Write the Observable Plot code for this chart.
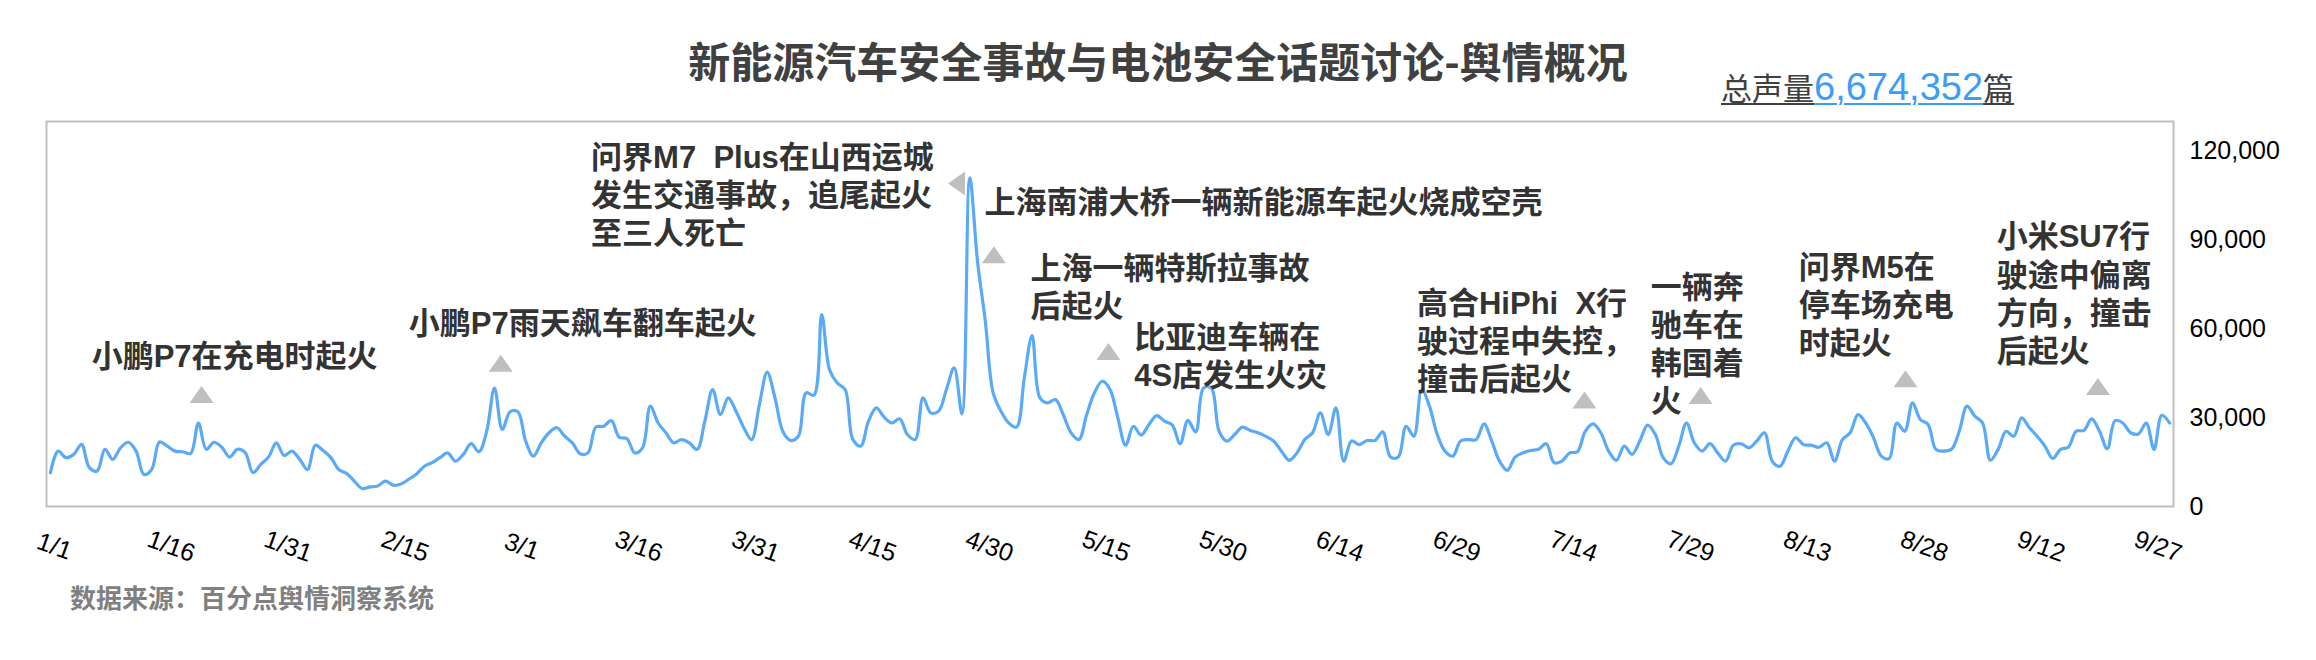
<!DOCTYPE html>
<html><head><meta charset="utf-8">
<script src="https://cdn.jsdelivr.net/npm/d3@7"></script>
<script src="https://cdn.jsdelivr.net/npm/@observablehq/plot@0.6"></script>
<style>
body{margin:0;background:#fff;}
#wrap{position:relative;width:2316px;height:660px;overflow:hidden;background:#fff;}
#title{position:absolute;left:0;width:2316px;top:36px;text-align:center;font:bold 42px/48px "Noto Sans CJK SC",sans-serif;color:#404040;white-space:nowrap;}
#total{position:absolute;left:1721px;top:66px;font:31px/42px "Noto Sans CJK SC",sans-serif;color:#404040;white-space:nowrap;}
#total span{text-decoration:underline;text-decoration-thickness:2px;text-underline-offset:3px;}
#total .num{color:#3d9cf6;font-size:38px;font-family:"Liberation Sans",sans-serif;}
#chart{position:absolute;left:0;top:108px;}
#source{position:absolute;left:70px;top:580px;font:bold 26px/34px "Noto Sans CJK SC",sans-serif;color:#808080;white-space:nowrap;}
</style></head>
<body><div id="wrap">
<div id="title"></div><div id="total"></div><div id="chart"></div><div id="source"></div>
</div>
<script>
const titleText = "新能源汽车安全事故与电池安全话题讨论-舆情概况";
const totalParts = ["总声量", "6,674,352", "篇"];
const sourceText = "数据来源：百分点舆情洞察系统";
const startDate = "2024-01-01";

const dailyVolume = [
 11400,18700,16500,17600,21000,13100,12000,19300,15900,19800,
 21700,18700,10800,12500,21800,20400,18700,18500,17900,28200,
 19300,21700,20000,16700,19300,18200,11400,14200,16700,21500,
 17200,18700,15900,12500,20700,18900,16500,12500,11200,8600,
 6100,6600,6900,8600,7200,7600,9200,11000,13600,14800,
 16500,18100,15300,17600,21200,18500,25400,40000,26000,32000,
 32000,22100,17000,21500,24900,26600,23800,21500,17800,18100,
 26800,27100,29000,23400,22900,18100,19800,33900,28200,24900,
 21500,22600,21500,19300,28800,39500,31000,36700,32200,26600,
 22600,34400,45400,36700,25400,22300,23700,38400,37600,64800,
 46200,41700,39500,22600,20400,28800,33300,30200,28200,29600,
 24300,22600,36700,31600,32200,39500,46800,31300,111000,82700,
 62500,38400,32200,28200,26800,43400,57700,36700,35000,36100,
 31000,24900,22600,31000,38400,42300,39500,30000,20700,27100,
 24100,27700,30700,28800,27500,21200,29100,25200,40000,40000,
 25400,22100,24300,26800,25700,24900,23700,22100,18700,15600,
 18100,22600,24900,31600,24300,33300,15300,22100,20900,22300,
 22300,25200,16700,16700,27100,23700,39500,33900,24300,18700,
 17000,22100,22600,22600,27900,22100,15300,12200,16700,18100,
 18900,19300,21200,14800,15300,18100,18500,25400,27900,24900,
 18700,15600,20400,17600,22100,27500,24300,16500,14400,20400,
 28200,21500,18700,21200,18100,15300,20700,21200,19800,22100,
 24900,15300,13600,18700,23200,20900,20700,20000,21500,15300,
 22600,24900,31000,28200,23200,17000,16200,28200,25400,35000,
 29400,27700,19300,18700,19300,25400,33900,30500,28200,15600,
 19300,25400,23700,29900,26600,23700,20400,16200,19300,20000,
 25400,25700,29600,25400,19500,29000,28200,24900,24500,28200,
 19300,30800,28200
];

const xTickLabels = ["1/1","1/16","1/31","2/15","3/1","3/16","3/31","4/15","4/30","5/15","5/30","6/14","6/29","7/14","7/29","8/13","8/28","9/12","9/27"];
const yTicks = [0, 30000, 60000, 90000, 120000];

const eventText = [
  "小鹏P7在充电时起火",
  "小鹏P7雨天飙车翻车起火",
  "问界M7\u00a0\u00a0Plus在山西运城\n发生交通事故，追尾起火\n至三人死亡",
  "上海南浦大桥一辆新能源车起火烧成空壳",
  "上海一辆特斯拉事故\n后起火",
  "比亚迪车辆在\n4S店发生火灾",
  "高合HiPhi\u00a0\u00a0X行\n驶过程中失控，\n撞击后起火",
  "一辆奔\n驰车在\n韩国着\n火",
  "问界M5在\n停车场充电\n时起火",
  "小米SU7行\n驶途中偏离\n方向，撞击\n后起火"
];
const eventDay = [5.3, 46.0, 69.4, 119.9, 125.8, 139.1, 175.4, 205.4, 224.4, 249.8];
const eventLevel = [50700, 61900, 118200, 103000, 80500, 57400, 68700, 74300, 81000, 91200];

const markerDay = [19.4, 57.8, 116.3, 121.1, 135.8, 196.9, 211.8, 238.1, 262.8];
const markerLevel = [37800, 48400, 109100, 85000, 52300, 36000, 37500, 43100, 40500];
const markerAngle = [0, 0, -90, 0, 0, 0, 0, 0, 0];

// ---- build tables
const t0 = Date.parse(startDate + "T00:00:00Z");
const DAY = 864e5;
const series = dailyVolume.map((v, i) => ({date: new Date(t0 + i * DAY), value: v}));
const year = new Date(t0).getUTCFullYear();
const tickDates = xTickLabels.map(s => { const [m, d] = s.split("/").map(Number); return new Date(Date.UTC(year, m - 1, d)); });
const tickLabelOf = new Map(tickDates.map((d, i) => [+d, xTickLabels[i]]));
const events = eventText.map((t, i) => ({label: t, date: new Date(t0 + eventDay[i] * DAY), level: eventLevel[i]}));
const markers = markerDay.map((d, i) => ({date: new Date(t0 + d * DAY), level: markerLevel[i], angle: markerAngle[i]}));

const triangle = {draw(ctx) { ctx.moveTo(0, -8.5); ctx.lineTo(12, 8.5); ctx.lineTo(-12, 8.5); ctx.closePath(); }};

document.getElementById("title").textContent = titleText;
document.getElementById("source").textContent = sourceText;
const tot = document.getElementById("total");
totalParts.forEach((p, i) => { const s = document.createElement("span"); s.textContent = p; if (i === 1) s.className = "num"; tot.appendChild(s); });

const last = series[series.length - 1].date;
const chart = Plot.plot({
  width: 2316, height: 480,
  marginLeft: 46, marginRight: 143, marginTop: 13, marginBottom: 82,
  style: {fontFamily: "'Liberation Sans','Noto Sans CJK SC',sans-serif", background: "transparent", overflow: "visible"},
  x: {type: "utc", domain: [new Date(t0 - DAY / 2), new Date(+last + DAY / 2)]},
  y: {domain: [0, 130000]},
  marks: [
    Plot.frame({stroke: "#bfbfbf", strokeWidth: 2}),
    Plot.line(series, {x: "date", y: "value", stroke: "#5aaaf8", strokeWidth: 3.2, curve: "catmull-rom"}),
    Plot.dot(markers, {x: "date", y: "level", symbol: triangle, r: 9, fill: "#bfbfbf", stroke: null, rotate: "angle"}),
    Plot.text(events, {x: "date", y: "level", text: "label", textAnchor: "start", lineAnchor: "top", lineHeight: 1.23, fontSize: 31, fill: "#333", fontWeight: 600, dy: -16}),
    Plot.axisX({ticks: tickDates, tickFormat: d => tickLabelOf.get(+d), tickRotate: 20, tickSize: 0, tickPadding: 40, textAnchor: "middle", lineAnchor: "middle", dx: 4, fontSize: 25, fill: "#000"}),
    Plot.axisY({anchor: "right", ticks: yTicks, tickFormat: d3.format(","), tickSize: 0, tickPadding: 16, fontSize: 25, fill: "#000"})
  ]
});
document.getElementById("chart").appendChild(chart);
</script>
</body></html>
